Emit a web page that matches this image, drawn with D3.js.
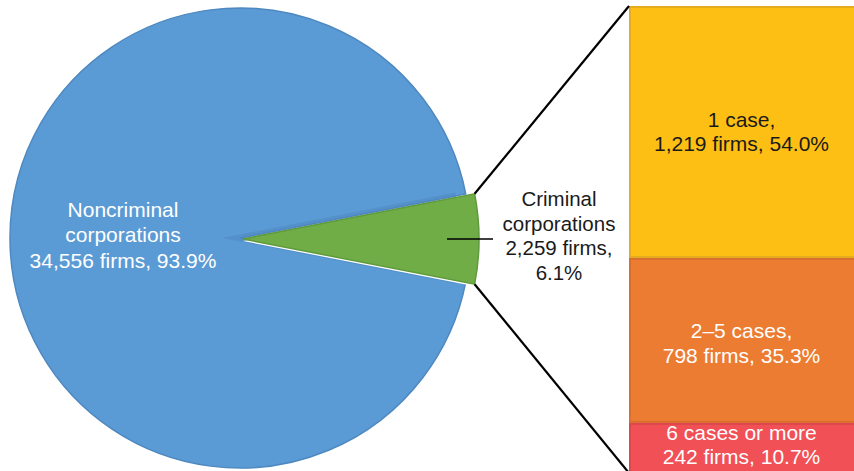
<!DOCTYPE html>
<html><head><meta charset="utf-8">
<script src="https://cdn.jsdelivr.net/npm/d3@7"></script>
<style>body{margin:0;background:#fff}svg{display:block}text{font-family:"Liberation Sans",Arial,Helvetica,sans-serif}</style>
</head><body><svg id="c" width="854" height="471"></svg>
<script>
const pieNames = ["Criminal corporations", "Noncriminal corporations"];
const pieValues = [2259, 34556];
const pieLabels = [["Criminal","corporations","2,259 firms,","6.1%"],["Noncriminal","corporations","34,556 firms, 93.9%"]];
const barNames = ["1 case", "2–5 cases", "6 cases or more"];
const barValues = [1219, 798, 242];
const barLabels = [["1 case,","1,219 firms, 54.0%"],["2–5 cases,","798 firms, 35.3%"],["6 cases or more","242 firms, 10.7%"]];

const svg = d3.select("#c");
const cx = 240, cy = 238, R = 230;
const critFrac = pieValues[0] / d3.sum(pieValues);
const start = Math.PI/2 - critFrac*Math.PI;
const pie = d3.pie().sort(null).startAngle(start).endAngle(start + 2*Math.PI);
const arcs = pie(pieValues);
const pieFill = ["#70AD47", "#5B9BD5"];
const pieStroke = ["#5F9A3B", "#4E88C0"];

// blue (noncriminal)
svg.append("path")
  .attr("transform", `translate(${cx},${cy})`)
  .attr("d", d3.arc().innerRadius(0).outerRadius(R)(arcs[1]))
  .attr("fill", pieFill[1]).attr("stroke", pieStroke[1]).attr("stroke-width", 1.5);

// subtle shadow of cut edges
const gc = {x: cx + 3, y: cy + 1}, GR = 236;
svg.append("path")
  .attr("transform", `translate(${cx-18},${cy})`)
  .attr("d", d3.arc().innerRadius(0).outerRadius(R+8)(arcs[0]))
  .attr("fill", "#4E86BE").attr("opacity", 0.5);

// green (criminal), exploded
const gArc = d3.arc().innerRadius(0).outerRadius(GR);
const gg = svg.append("g").attr("transform", `translate(${gc.x},${gc.y})`);
gg.append("path").attr("d", gArc(arcs[0]))
  .attr("fill", "#ffffff").attr("transform","translate(0,2)");
gg.append("path").attr("d", gArc(arcs[0]))
  .attr("fill", pieFill[0]).attr("stroke", pieStroke[0]).attr("stroke-width", 1.5);

// bar of pie
const bx0 = 629, bx1 = 856;
const y = d3.scaleLinear().domain([0, d3.sum(barValues)]).range([6, 473]);
const cum = [0]; barValues.forEach((v,i)=>cum.push(cum[i]+v));
const barFill = ["#FDBF14", "#EC7C31", "#F05056"];
const barStroke = ["#E5AC20", "#D86F2C", "#DE474C"];
const barText = ["#1a1a1a", "#ffffff", "#ffffff"];
const labelNudge = [0, 3, -3];
barValues.forEach((v,i)=>{
  const y0 = y(cum[i]), y1 = y(cum[i+1]);
  svg.append("rect").attr("x", bx0+1).attr("y", y0+1)
    .attr("width", bx1-bx0).attr("height", y1-y0-2)
    .attr("fill", barFill[i]).attr("stroke", barStroke[i]).attr("stroke-width", 2);
  const mid = (y0+y1)/2 + labelNudge[i];
  const t = svg.append("text").attr("x", (bx0+854)/2).attr("y", mid)
    .attr("text-anchor","middle").attr("fill", barText[i]).attr("font-size", 21);
  barLabels[i].forEach((s,j)=>{
    t.append("tspan").attr("x",(bx0+854)/2).attr("y", mid + 7 + (j - (barLabels[i].length-1)/2)*24.5).text(s);
  });
});

// connector lines
const a0 = arcs[0];
const cTop = [gc.x + GR*Math.sin(a0.startAngle), gc.y - GR*Math.cos(a0.startAngle)];
const cBot = [gc.x + GR*Math.sin(a0.endAngle), gc.y - GR*Math.cos(a0.endAngle)];
svg.append("line").attr("x1", cTop[0]).attr("y1", cTop[1]).attr("x2", bx0).attr("y2", y(0))
  .attr("stroke","#000").attr("stroke-width",2.2);
svg.append("line").attr("x1", cBot[0]).attr("y1", cBot[1]).attr("x2", bx0).attr("y2", y(cum[3]))
  .attr("stroke","#000").attr("stroke-width",2.2);
// leader
svg.append("line").attr("x1", 447).attr("y1", 239).attr("x2", 493).attr("y2", 239)
  .attr("stroke","#000").attr("stroke-width",1.3);

// pie labels
const lab = (lines, x, yc, fill, fs, lh) => {
  const t = svg.append("text").attr("text-anchor","middle").attr("fill", fill).attr("font-size", fs);
  lines.forEach((s,j)=>t.append("tspan").attr("x", x).attr("y", yc + 7 + (j-(lines.length-1)/2)*lh).text(s));
};
lab(pieLabels[1], 123, 235, "#ffffff", 21, 25.5);
lab(pieLabels[0], 559, 236, "#1a1a1a", 20.5, 24.5);
</script></body></html>
